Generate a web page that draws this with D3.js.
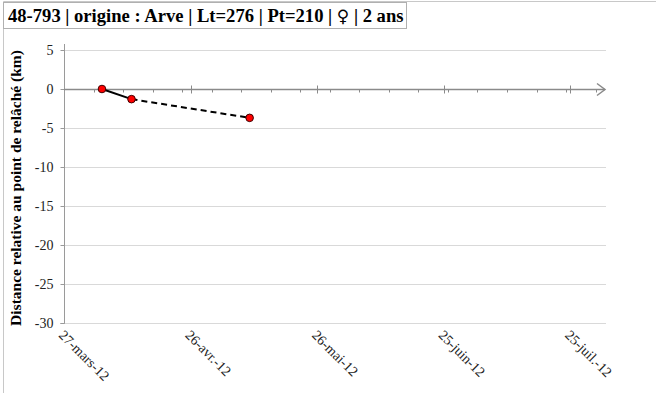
<!DOCTYPE html>
<html><head><meta charset="utf-8">
<script src="https://cdn.jsdelivr.net/npm/d3@7"></script>
<style>body{margin:0;background:#fff;}svg{display:block;font-family:"Liberation Serif","Times New Roman",serif;}</style>
</head><body>
<svg id="c" width="656" height="394"></svg>
<script>
const titleParts = ["48-793 | origine : Arve | Lt=276 | Pt=210 | ", "\u2640", " | 2 ans"];
const yLabel = "Distance relative au point de relâché (km)";
const dates = ["2012-04-05", "2012-04-12", "2012-05-10"];
const values = [0, -1.3, -3.7];
const segmentStyles = ["solid", "dashed"];
const xTickDates = ["2012-03-27", "2012-04-26", "2012-05-26", "2012-06-25", "2012-07-25"];
const xTickLabels = ["27-mars-12", "26-avr.-12", "26-mai-12", "25-juin-12", "25-juil.-12"];
const yTicks = [5, 0, -5, -10, -15, -20, -25, -30];

const SERIF = "'Liberation Serif', 'Times New Roman', serif";
const parse = d3.utcParse("%Y-%m-%d");
const svg = d3.select("#c");
const x = d3.scaleUtc().domain([parse("2012-03-27"), parse("2012-08-02")]).range([64, 604]);
const y = d3.scaleLinear().domain([-30, 5]).range([323, 50]);

// outer frame
svg.append("path").attr("d", "M3.5,393 V1.5 H656").attr("fill", "none").attr("stroke", "#c8c8c8");

// gridlines
svg.append("g").selectAll("line").data(yTicks.filter(v => v !== 0)).join("line")
  .attr("x1", 64).attr("x2", 606).attr("y1", d => Math.round(y(d)) + 0.5).attr("y2", d => Math.round(y(d)) + 0.5)
  .attr("stroke", "#d9d9d9").attr("stroke-width", 1);

// y axis
const yAxis = svg.append("g").attr("transform", "translate(64.5,0)")
  .call(d3.axisLeft(y).tickValues(yTicks).tickSize(4).tickPadding(7).tickFormat(d3.format("d")))
  .attr("font-family", SERIF).attr("font-size", 14);
yAxis.select(".domain").attr("stroke", "#9a9a9a").attr("d", "M-4," + (y(-30)+0.5) + "H0V44");
yAxis.selectAll(".tick line").attr("stroke", "#9a9a9a");
yAxis.selectAll(".tick text").attr("fill", "#222")
  .text(d => d < 0 ? "-" + Math.abs(d) : d);

// x zero axis with minor/major ticks
const y0 = Math.round(y(0)) + 0.5;
const gx = svg.append("g");
gx.append("line").attr("x1", 64).attr("x2", 605).attr("y1", y0).attr("y2", y0).attr("stroke", "#8a8a8a").attr("stroke-width", 1.6);
gx.append("path").attr("d", `M597,${y0-6} L605,${y0} L597,${y0+6}`).attr("fill", "none").attr("stroke", "#8a8a8a").attr("stroke-width", 1.5);
const minor = d3.range(1, 19).map(i => d3.utcDay.offset(parse("2012-03-27"), 7 * i));
gx.selectAll("line.minor").data(minor).join("line").attr("class", "minor")
  .attr("x1", d => Math.round(x(d)) + 0.5).attr("x2", d => Math.round(x(d)) + 0.5)
  .attr("y1", y0).attr("y2", y0 + 3).attr("stroke", "#8a8a8a");
gx.selectAll("line.major").data(xTickDates.slice(1).map(parse)).join("line").attr("class", "major")
  .attr("x1", d => Math.round(x(d)) + 0.5).attr("x2", d => Math.round(x(d)) + 0.5)
  .attr("y1", y0 - 4).attr("y2", y0 + 4).attr("stroke", "#8a8a8a");

// x labels at bottom, rotated 45°
svg.append("g").attr("font-family", SERIF).selectAll("text").data(xTickDates).join("text")
  .attr("transform", d => `translate(${x(parse(d)) - 6},${336}) rotate(45)`)
  .attr("font-size", 14).attr("fill", "#222").attr("text-anchor", "start")
  .text((d, i) => xTickLabels[i]);

// line segments
const pts = dates.map((d, i) => [x(parse(d)), y(values[i])]);
svg.append("g").selectAll("line").data(segmentStyles).join("line")
  .attr("x1", (d, i) => pts[i][0]).attr("y1", (d, i) => pts[i][1])
  .attr("x2", (d, i) => pts[i + 1][0]).attr("y2", (d, i) => pts[i + 1][1])
  .attr("stroke", "#000").attr("stroke-width", 2)
  .attr("stroke-dasharray", d => d === "dashed" ? "6,4" : null);

// markers
svg.append("g").selectAll("circle").data(pts).join("circle")
  .attr("cx", d => d[0]).attr("cy", d => d[1]).attr("r", 3.8)
  .attr("fill", "#ff0000").attr("stroke", "#400000").attr("stroke-width", 1);

// y label
svg.append("text").attr("transform", "translate(21,188) rotate(-90)")
  .attr("font-family", SERIF)
  .attr("text-anchor", "middle").attr("font-size", 15.5).attr("font-weight", "bold").attr("fill", "#000")
  .text(yLabel);

// title box
const tg = svg.append("g");
tg.append("rect").attr("x", 3.5).attr("y", 2.5).attr("width", 403).attr("height", 26)
  .attr("fill", "#fff").attr("stroke", "#b0b0b0");
const tt = tg.append("text").attr("x", 8).attr("y", 22).attr("font-family", SERIF)
  .attr("font-size", 18.6).attr("font-weight", "bold").attr("fill", "#000");
tt.selectAll("tspan").data(titleParts).join("tspan")
  .attr("font-family", (d, i) => i === 1 ? "DejaVu Sans" : null)
  .attr("font-weight", (d, i) => i === 1 ? "normal" : null)
  .attr("font-size", (d, i) => i === 1 ? 17 : null)
  .text(d => d);
</script>
</body></html>
